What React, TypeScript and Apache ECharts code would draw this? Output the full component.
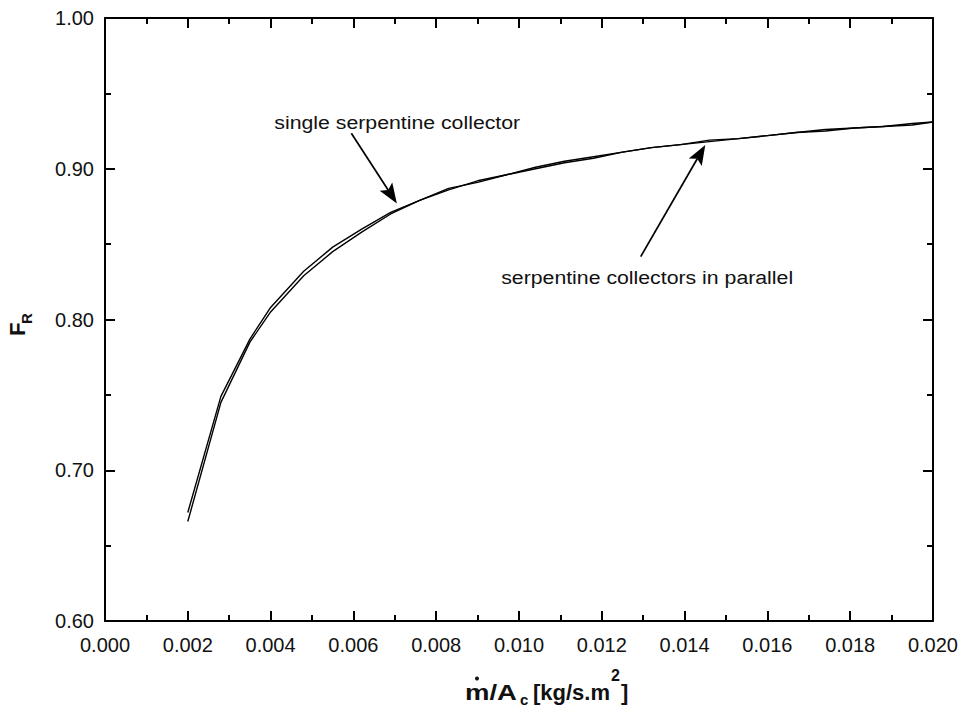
import { useEffect, useRef } from 'react';
import * as echarts from 'echarts';

// Mass flux per collector area, kg/(s·m²)
const massFlux = [
  0.002, 0.0028, 0.0035, 0.004, 0.0048, 0.0055, 0.0062, 0.0069, 0.0076, 0.0083,
  0.009, 0.0097, 0.0104, 0.0111, 0.0118, 0.0125, 0.0132, 0.0139, 0.0146, 0.0153,
  0.016, 0.0167, 0.0174, 0.0181, 0.0188, 0.0195, 0.02,
];

// Heat removal factor F_R
const singleSerpentine = [
  0.672, 0.749, 0.787, 0.808, 0.832, 0.848, 0.86, 0.871, 0.879, 0.887,
  0.891, 0.896, 0.9, 0.904, 0.907, 0.911, 0.914, 0.916, 0.918, 0.92,
  0.922, 0.924, 0.926, 0.927, 0.928, 0.93, 0.931,
];
const parallelSerpentine = [
  0.666, 0.745, 0.785, 0.805, 0.829, 0.845, 0.858, 0.87, 0.879, 0.886,
  0.892, 0.896, 0.901, 0.905, 0.908, 0.911, 0.914, 0.916, 0.919, 0.92,
  0.922, 0.924, 0.925, 0.927, 0.928, 0.929, 0.931,
];

const xRange = [0, 0.02];
const yRange = [0.6, 1.0];

// Annotations: text anchor (left, middle) plus arrow tail -> tip, in data units
const notes = [
  { text: 'single serpentine collector', at: [0.00409, 0.931], from: [0.00595, 0.9235], to: [0.00705, 0.877] },
  { text: 'serpentine collectors in parallel', at: [0.00957, 0.8282], from: [0.01294, 0.8417], to: [0.0145, 0.9158] },
];

const FONT = 'Liberation Sans, Arial, Helvetica, sans-serif';

export default function App() {
  const ref = useRef<HTMLDivElement>(null);

  useEffect(() => {
    if (!ref.current) return;
    const chart = echarts.init(ref.current, undefined, { renderer: 'svg' });

    const axisLine = { show: true, onZero: false, lineStyle: { color: '#000', width: 2 } };
    const axisTick = { show: true, inside: true, length: 10, lineStyle: { color: '#000', width: 2 } };
    const minorTick = { show: true, splitNumber: 2, length: 6, lineStyle: { color: '#000', width: 2 } };
    const label = { color: '#111', fontFamily: FONT, fontSize: 20 };

    const lineSeries = (name: string, ys: number[]) => ({
      name,
      type: 'line',
      data: massFlux.map((x, i) => [x, ys[i]]),
      showSymbol: false,
      symbol: 'none',
      lineStyle: { color: '#000', width: 1.4 },
      clip: true,
      silent: true,
    });

    chart.setOption({
      animation: false,
      backgroundColor: '#fff',
      grid: { left: 105, right: 24, top: 18, bottom: 89, containLabel: false },
      xAxis: [
        {
          type: 'value', position: 'bottom', min: xRange[0], max: xRange[1], interval: 0.002,
          axisLine, axisTick, minorTick, splitLine: { show: false },
          axisLabel: { ...label, margin: 14, formatter: (v: number) => v.toFixed(3) },
        },
        {
          type: 'value', position: 'top', min: xRange[0], max: xRange[1], interval: 0.002,
          axisLine, axisTick, minorTick, splitLine: { show: false }, axisLabel: { show: false },
        },
      ],
      yAxis: [
        {
          type: 'value', position: 'left', min: yRange[0], max: yRange[1], interval: 0.1,
          axisLine, axisTick, minorTick, splitLine: { show: false },
          axisLabel: { ...label, margin: 11, formatter: (v: number) => v.toFixed(2) },
        },
        {
          type: 'value', position: 'right', min: yRange[0], max: yRange[1], interval: 0.1,
          axisLine, axisTick, minorTick, splitLine: { show: false }, axisLabel: { show: false },
        },
      ],
      series: [
        lineSeries('single serpentine collector', singleSerpentine),
        lineSeries('serpentine collectors in parallel', parallelSerpentine),
      ],
    });

    const px = (p: number[]) => chart.convertToPixel({ xAxisIndex: 0, yAxisIndex: 0 }, p) as number[];

    const graphics: any[] = [];
    notes.forEach((n) => {
      const t = px(n.at);
      graphics.push({
        type: 'text', x: t[0], y: t[1], scaleX: 1.12,
        style: { text: n.text, fill: '#111', font: `19px ${FONT}`, align: 'left', verticalAlign: 'middle' },
      });
      const a = px(n.from);
      const b = px(n.to);
      const dx = b[0] - a[0];
      const dy = b[1] - a[1];
      const len = Math.hypot(dx, dy);
      const ux = dx / len;
      const uy = dy / len;
      const headLen = 20;
      const headHalf = 7.5;
      const baseX = b[0] - ux * headLen;
      const baseY = b[1] - uy * headLen;
      const notchX = b[0] - ux * (headLen - 4);
      const notchY = b[1] - uy * (headLen - 4);
      graphics.push({
        type: 'line',
        shape: { x1: a[0], y1: a[1], x2: notchX, y2: notchY },
        style: { stroke: '#000', lineWidth: 1.7 },
      });
      graphics.push({
        type: 'polygon',
        shape: {
          points: [
            [b[0], b[1]],
            [baseX - uy * headHalf, baseY + ux * headHalf],
            [notchX, notchY],
            [baseX + uy * headHalf, baseY - ux * headHalf],
          ],
        },
        style: { fill: '#000' },
      });
    });

    // x-axis title: m-dot / A_c [kg/s.m^2]
    const titleFont = `bold 22px ${FONT}`;
    graphics.push(
      { type: 'text', x: 465, y: 692, scaleX: 1.25, style: { text: 'm/A', font: titleFont, fill: '#111', verticalAlign: 'middle' } },
      { type: 'circle', shape: { cx: 477, cy: 678.5, r: 2 }, style: { fill: '#111' } },
      { type: 'text', x: 520, y: 699, style: { text: 'c', font: `bold 15px ${FONT}`, fill: '#111', verticalAlign: 'middle' } },
      { type: 'text', x: 533, y: 692, style: { text: '[kg/s.m', font: titleFont, fill: '#111', verticalAlign: 'middle' } },
      { type: 'text', x: 611, y: 675, style: { text: '2', font: `bold 16px ${FONT}`, fill: '#111', verticalAlign: 'middle' } },
      { type: 'text', x: 621, y: 692, style: { text: ']', font: titleFont, fill: '#111', verticalAlign: 'middle' } },
    );

    // y-axis title: F_R, reading bottom to top
    graphics.push({
      type: 'group', x: 25, y: 336, rotation: Math.PI / 2,
      children: [
        { type: 'text', x: 0, y: -7.6, style: { text: 'F', font: titleFont, fill: '#111', verticalAlign: 'middle' } },
        { type: 'text', x: 12, y: 1.5, style: { text: 'R', font: `bold 15px ${FONT}`, fill: '#111', verticalAlign: 'middle' } },
      ],
    });

    chart.setOption({ graphic: graphics });

    return () => chart.dispose();
  }, []);

  return (
    <div
      ref={ref}
      style={{ position: 'fixed', left: 0, top: 0, width: 961, height: 710, background: '#fff' }}
    />
  );
}
